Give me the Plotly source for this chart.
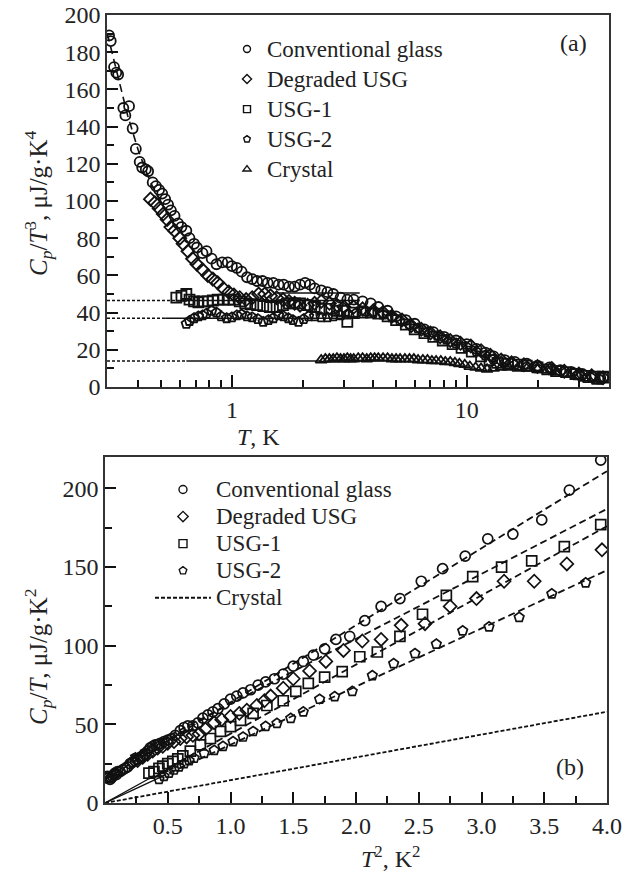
import plotly.graph_objects as go
import math

# ---------------- Panel (a): Cp/T^3 vs T ----------------
conv_T = [0.300, 0.305, 0.315, 0.322, 0.328, 0.345, 0.352, 0.365, 0.378, 0.390, 0.405, 0.415, 0.43, 0.44,
          0.46, 0.475, 0.49, 0.505, 0.52, 0.535, 0.55, 0.57, 0.59, 0.61, 0.64, 0.66, 0.69, 0.71, 0.75,
          0.78, 0.82, 0.86, 0.91, 0.96, 1.0, 1.05, 1.1, 1.16, 1.22, 1.28, 1.35, 1.42, 1.5, 1.58, 1.66,
          1.75, 1.85, 1.95, 2.05, 2.15, 2.25, 2.4, 2.55, 2.7, 2.9, 3.1, 3.3, 3.6, 3.9, 4.2, 4.6, 5.0,
          5.5, 6.0, 6.6, 7.2, 8.0, 9.0, 10, 11, 12, 13, 14.5, 16, 18, 20, 22.5, 25, 28, 31, 34, 37]
conv_a = [189, 186, 172, 169, 168, 150, 146, 151, 139, 128, 121, 118, 117, 116,
          110, 108, 106, 104, 101, 98, 95, 92, 88, 86, 84, 80, 77, 75, 72,
          73, 69, 66, 67, 67, 65, 64, 62, 59, 58, 57, 57, 56, 56, 55, 55,
          54, 54, 55, 56, 55, 53, 52, 51, 50, 48, 47, 47, 46, 45, 43, 41, 38,
          36, 34, 31, 29.5, 27, 25, 23, 20.5, 18.5, 16.5, 14.5, 13.5, 12.5, 11.5, 10.5, 9, 8, 7, 6, 5]

degr_T = [0.45, 0.47, 0.49, 0.51, 0.53, 0.55, 0.57, 0.6, 0.62, 0.65, 0.68, 0.71, 0.75, 0.79, 0.83,
          0.87, 0.92, 0.97, 1.02, 1.08, 1.15, 1.22, 1.3, 1.38, 1.46, 1.55, 1.65, 1.75, 1.85, 1.95,
          2.1, 2.25, 2.4, 2.6, 2.8, 3.0, 3.3, 3.6, 4.0, 4.4, 4.8, 5.3, 5.8, 6.4, 7.0, 7.7, 8.5, 9.4,
          10.4, 11.5, 12.6, 14, 15.5, 17.5, 20, 23, 26, 30, 34, 38]
degr_a = [101, 99, 96, 93, 90, 86, 84, 80, 77, 73, 69, 66, 63, 60, 58,
          56, 53, 51, 49.5, 48, 47, 48, 50, 50, 49, 48, 47, 46, 45, 44,
          44, 45, 46, 45, 44, 43, 43, 42, 41, 40, 38, 36, 33, 31, 29, 27, 25, 23.5,
          22, 19.5, 17, 14.5, 13, 12, 11, 10, 8.5, 7, 6, 5]

usg1_T = [0.58, 0.61, 0.64, 0.66, 0.69, 0.72, 0.75, 0.79, 0.83, 0.87, 0.92, 0.97, 1.02, 1.08, 1.14,
          1.2, 1.28, 1.36, 1.45, 1.55, 1.65, 1.75, 1.85, 1.95, 2.1, 2.25, 2.4, 2.6, 2.8, 3.0, 3.1,
          3.3, 3.6, 3.9, 4.2, 4.6, 5.0, 5.5, 6.0, 6.6, 7.2, 7.9, 8.7, 9.5, 10.5, 11.5, 12.5, 13.5,
          15, 16.5, 18, 20, 22, 24, 26.5, 29, 32, 35, 38, 40]
usg1_a = [48, 49, 50, 47, 46, 45.5, 46, 46, 46.5, 47, 47, 47, 47, 46, 45,
          44.5, 44, 43.5, 43, 43, 44, 45, 45, 45, 44, 43, 42, 42, 41, 41, 35,
          40, 40, 40, 39.5, 38, 36, 33.5, 31, 29, 27, 25, 23, 21, 19, 16.5, 14.5, 13,
          12.5, 12, 11.5, 10.5, 9.5, 8.5, 8, 7, 6, 5.5, 5.5, 5]

usg2_T = [0.64, 0.66, 0.69, 0.72, 0.75, 0.78, 0.82, 0.86, 0.9, 0.95, 1.0, 1.05, 1.1, 1.16, 1.22,
          1.29, 1.36, 1.43, 1.5, 1.58, 1.66, 1.74, 1.82, 1.92, 2.02, 2.12, 2.25, 2.4, 2.55, 2.7,
          2.9, 3.1, 3.4, 3.7, 4.0, 4.4, 4.8, 5.2, 5.7, 6.2, 6.8, 7.5, 8.2, 9.0, 10, 11, 12, 13,
          14.5, 16, 18, 20, 23, 26, 30, 34, 37]
usg2_a = [34, 35.5, 37, 38, 38.5, 39.5, 41, 40, 38, 37, 37.5, 38.5, 39, 38, 37.5,
          36.5, 35, 36, 37, 38.5, 38, 37, 36, 35, 36.5, 38, 38, 37.5, 37.5, 38,
          38.5, 39, 40, 40.5, 40, 39, 37.5, 35.5, 33.5, 31.5, 29.5, 27.5, 25.5, 23.5, 21.5, 19, 17, 15,
          13, 12, 11, 10, 9, 7.5, 6.5, 5, 4]

cryst_T = [2.4, 2.5, 2.6, 2.7, 2.8, 2.9, 3.0, 3.1, 3.2, 3.3, 3.45, 3.6, 3.75, 3.9, 4.05, 4.2, 4.4,
           4.6, 4.8, 5.0, 5.2, 5.45, 5.7, 5.95, 6.2, 6.5, 6.8, 7.1, 7.4, 7.75, 8.1, 8.5, 8.9, 9.3,
           9.8, 10.3, 10.9, 11.5, 12.2, 13, 14, 15, 16.5, 18, 20, 22, 24, 27, 30, 33, 36]
cryst_a = [14.5, 15, 15, 15, 15.5, 15, 15, 15.5, 15, 15, 15.5, 15.5, 15, 15.5, 15.5, 15.5, 15.5,
           15.5, 15, 15, 15, 15, 15, 15, 14.5, 14.5, 14.5, 14, 14, 14, 13.5, 13.5, 13, 12.5,
           12, 11, 10.5, 10, 9.5, 10, 10.5, 10.5, 10, 10, 9.5, 9, 8, 7, 5.5, 4, 3]

# low-temperature fit curve for the conventional glass
fit_a_T = [0.295, 0.31, 0.33, 0.36, 0.40, 0.45, 0.50]
fit_a_v = [190, 179, 164, 146, 127, 110, 99]

# Debye levels (dashed extrapolation + solid part)
lvl_values = [46.5, 37.0, 14.0]
lvl_dash_T = [(0.294, 0.58), (0.294, 0.52), (0.294, 0.64)]
lvl_solid_T = [(0.58, 3.5), (0.52, 3.5), (0.64, 2.4)]
extra_lvl_T = [1.5, 3.5]
extra_lvl_v = [50.5, 50.5]

# axis ticks (a)
range_a_T = [0.294, 40.3]
range_a_y = [0, 200]
tick_a_major = [1, 10]
tick_a_minor = [0.4, 0.5, 0.6, 0.7, 0.8, 0.9, 2, 3, 4, 5, 6, 7, 8, 9, 20, 30]
tick_a_y = list(range(0, 201, 20))
tick_a_y_minor = list(range(10, 200, 20))

# ---------------- Panel (b): Cp/T vs T^2 ----------------
conv_x = [0.01, 0.02, 0.03, 0.04, 0.05, 0.06, 0.07, 0.08, 0.09, 0.1, 0.12, 0.14, 0.16, 0.18, 0.2,
          0.22, 0.24, 0.26, 0.28, 0.3, 0.32, 0.34, 0.36, 0.38, 0.4, 0.42, 0.44, 0.47, 0.5, 0.53,
          0.56, 0.6, 0.63, 0.66, 0.7, 0.74, 0.78, 0.82, 0.86, 0.9, 0.95, 1.0, 1.05, 1.1, 1.16,
          1.22, 1.28, 1.35, 1.42, 1.5, 1.58, 1.66, 1.75, 1.84, 1.95, 2.07, 2.2, 2.35, 2.52, 2.69,
          2.87, 3.05, 3.25, 3.48, 3.7, 3.95]
conv_y = [16, 17, 16, 15, 16, 17, 18, 19, 18, 20, 20, 21, 22, 23, 25,
          26, 27, 28, 29, 30, 31, 33, 35, 36, 37, 37, 38, 39, 40, 41,
          43, 46, 48, 49, 49, 51, 54, 56, 58, 60, 63, 66, 68, 70, 72,
          75, 77, 79, 82, 87, 90, 94, 98, 104, 106, 116, 125, 130, 141, 149,
          157, 168, 171, 180, 199, 218]

degr_x = [0.22, 0.26, 0.3, 0.34, 0.38, 0.42, 0.46, 0.5, 0.55, 0.6, 0.65, 0.7, 0.75, 0.8, 0.87,
          0.93, 1.0, 1.07, 1.13, 1.21, 1.27, 1.32, 1.42, 1.5, 1.63, 1.76, 1.9, 2.05, 2.2, 2.36,
          2.55, 2.75, 2.96, 3.18, 3.42, 3.68, 3.96]
degr_y = [26, 27, 29, 31, 33, 35, 36, 38, 39, 41, 42, 43, 44, 47, 51,
          53, 55, 57, 59, 62, 65, 68, 73, 79, 84, 90, 97, 103, 104, 113,
          114, 125, 130, 141, 141, 152, 161]

usg1_x = [0.35, 0.39, 0.43, 0.46, 0.5, 0.54, 0.58, 0.62, 0.68, 0.76, 0.84, 0.92, 1.0, 1.08, 1.18,
          1.29, 1.42, 1.52, 1.62, 1.75, 1.89, 2.03, 2.17, 2.35, 2.53, 2.72, 2.93, 3.16, 3.4, 3.66, 3.95]
usg1_y = [19, 20, 22, 23.5, 25, 26.5, 28, 30, 33, 37, 41, 45.5, 48.5, 52.5, 57,
          62, 65, 71, 76, 80, 83.5, 93, 96, 106, 120, 132, 144, 150, 154, 163, 177]

usg2_x = [0.43, 0.47, 0.51, 0.55, 0.59, 0.63, 0.67, 0.71, 0.79, 0.87, 0.94, 1.02, 1.1, 1.18, 1.28,
          1.37, 1.48, 1.58, 1.71, 1.83, 1.97, 2.13, 2.3, 2.47, 2.64, 2.85, 3.06, 3.3, 3.56, 3.83]
usg2_y = [15, 17, 19, 21, 23, 25, 27, 28.5, 31.6, 33.5, 36, 39, 42, 45.5, 48.7,
          50.6, 53.8, 58, 66, 67.7, 71, 81, 88.6, 95, 101, 109.5, 112, 118, 133, 140]

# linear fits (end points)
fit_conv_x, fit_conv_y = [0.0, 4.0], [15, 211]
fit_degr_x, fit_degr_y = [0.2, 4.0], [30, 187]
fit_usg1_solid_x, fit_usg1_solid_y = [0.0, 0.35], [0, 15.4]
fit_usg1_x, fit_usg1_y = [0.35, 4.0], [15.4, 176]
fit_usg2_solid_x, fit_usg2_solid_y = [0.0, 0.43], [0, 16]
fit_usg2_x, fit_usg2_y = [0.43, 4.0], [16, 148]
fit_cryst_x, fit_cryst_y = [0.0, 4.0], [0, 58]

# axis ticks (b)
range_b_x = [0, 4]
range_b_y = [0, 220]
tick_b_x = [0.5, 1.0, 1.5, 2.0, 2.5, 3.0, 3.5, 4.0]
tick_b_x_text = ["0.5", "1.0", "1.5", "2.0", "2.5", "3.0", "3.5", "4.0"]
tick_b_x_minor = [0.25, 0.75, 1.25, 1.75, 2.25, 2.75, 3.25, 3.75]
tick_b_y = [0, 50, 100, 150, 200]
tick_b_y_minor = [25, 75, 125, 175]

names = ["Conventional glass", "Degraded USG", "USG-1", "USG-2", "Crystal"]
symbols = ["circle-open", "diamond-open", "square-open", "pentagon-open", "triangle-up-open"]

# ------------------------------------------------------------
W, H = 639, 874
FONT = "Liberation Serif, Times New Roman, serif"
INK = "#222222"
TICK = "#111111"


def px_x(p):
    return p / W


def px_y(p):
    return 1 - p / H


def big(t):
    return '<span style="font-size:23px">' + t + '</span>'


fig = go.Figure()

mk = dict(size=10, color="#111111", line=dict(width=1.8, color="#111111"))

# panel (a) lines
for v, (t0, t1) in zip(lvl_values, lvl_dash_T):
    fig.add_trace(go.Scatter(x=[t0, t1], y=[v, v], mode="lines", xaxis="x", yaxis="y",
                             line=dict(color="#111111", width=1.4, dash="3px,2px"), showlegend=False))
for v, (t0, t1) in zip(lvl_values, lvl_solid_T):
    fig.add_trace(go.Scatter(x=[t0, t1], y=[v, v], mode="lines", xaxis="x", yaxis="y",
                             line=dict(color="#111111", width=1.4), showlegend=False))
fig.add_trace(go.Scatter(x=extra_lvl_T, y=extra_lvl_v, mode="lines", xaxis="x", yaxis="y",
                         line=dict(color="#111111", width=1.4), showlegend=False))
fig.add_trace(go.Scatter(x=fit_a_T, y=fit_a_v, mode="lines", xaxis="x", yaxis="y",
                         line=dict(color="#111111", width=1.6, dash="8px,5px"), showlegend=False))

series_a = [(conv_T, conv_a), (degr_T, degr_a), (usg1_T, usg1_a), (usg2_T, usg2_a), (cryst_T, cryst_a)]
for (xs, ys), sym in zip(series_a, symbols):
    fig.add_trace(go.Scatter(x=xs, y=ys, mode="markers", xaxis="x", yaxis="y",
                             marker=dict(symbol=sym, **mk), showlegend=False))

for nm, sym in zip(names, symbols):
    fig.add_trace(go.Scatter(x=[None], y=[None], mode="markers", xaxis="x", yaxis="y", name=big(nm),
                             marker=dict(symbol=sym, size=7, color="#111111",
                                         line=dict(width=1.4, color="#111111")),
                             legend="legend"))

# panel (b) lines
dash_b = dict(color="#111111", width=1.8, dash="7px,4px")
for xs, ys in [(fit_conv_x, fit_conv_y), (fit_degr_x, fit_degr_y), (fit_usg1_x, fit_usg1_y),
               (fit_usg2_x, fit_usg2_y)]:
    fig.add_trace(go.Scatter(x=xs, y=ys, mode="lines", xaxis="x2", yaxis="y2",
                             line=dash_b, showlegend=False))
for xs, ys in [(fit_usg1_solid_x, fit_usg1_solid_y), (fit_usg2_solid_x, fit_usg2_solid_y)]:
    fig.add_trace(go.Scatter(x=xs, y=ys, mode="lines", xaxis="x2", yaxis="y2",
                             line=dict(color="#111111", width=1.3), showlegend=False))

series_b = [(conv_x, conv_y), (degr_x, degr_y), (usg1_x, usg1_y), (usg2_x, usg2_y)]
for (xs, ys), sym in zip(series_b, symbols[:4]):
    fig.add_trace(go.Scatter(x=xs, y=ys, mode="markers", xaxis="x2", yaxis="y2",
                             marker=dict(symbol=sym, size=10, color="#111111",
                                         line=dict(width=1.7, color="#111111")),
                             showlegend=False))
for nm, sym in zip(names[:4], symbols[:4]):
    fig.add_trace(go.Scatter(x=[None], y=[None], mode="markers", xaxis="x2", yaxis="y2", name=big(nm),
                             marker=dict(symbol=sym, size=8, color="#111111",
                                         line=dict(width=1.4, color="#111111")),
                             legend="legend2"))
fig.add_trace(go.Scatter(x=fit_cryst_x, y=fit_cryst_y, mode="lines", xaxis="x2", yaxis="y2",
                         name=big(names[4]), line=dict(color="#111111", width=1.8, dash="4px,2px"),
                         legend="legend2"))

# empty carrier traces so the overlay (minor-tick) axes get drawn
for xa, ya in [("x3", "y"), ("x", "y3"), ("x4", "y2"), ("x2", "y4")]:
    fig.add_trace(go.Scatter(x=[None], y=[None], mode="markers", xaxis=xa, yaxis=ya,
                             showlegend=False, hoverinfo="skip"))

tf = dict(family=FONT, size=24, color=INK)
base = dict(showline=True, linecolor="#333333", linewidth=1.6, mirror=True, showgrid=False,
            zeroline=False, automargin=False, tickfont=tf, ticks="inside", tickwidth=2.2,
            tickcolor=TICK, tickmode="array")
minor_axis = dict(showline=False, showgrid=False, zeroline=False, automargin=False,
                  showticklabels=False, ticks="inside", ticklen=7, tickwidth=1.8, tickcolor=TICK,
                  tickmode="array")

log_range_a = [math.log10(range_a_T[0]), math.log10(range_a_T[1])]

fig.update_layout(
    template="none",
    width=W, height=H, margin=dict(l=0, r=0, t=0, b=0, pad=0, autoexpand=False),
    paper_bgcolor="white", plot_bgcolor="white",
    font=dict(family=FONT, size=24, color=INK),
    xaxis=dict(**base, type="log", domain=[px_x(107), px_x(609)], range=log_range_a, anchor="y",
               ticklen=12, tickvals=tick_a_major, ticktext=[str(v) for v in tick_a_major]),
    yaxis=dict(**base, domain=[px_y(387), px_y(15)], range=range_a_y, anchor="x", ticklen=11,
               tickvals=tick_a_y),
    xaxis2=dict(**base, domain=[px_x(105), px_x(607)], range=range_b_x, anchor="y2", ticklen=11,
                tickvals=tick_b_x, ticktext=tick_b_x_text),
    yaxis2=dict(**base, domain=[px_y(803), px_y(457)], range=range_b_y, anchor="x2", ticklen=11,
                tickvals=tick_b_y),
    xaxis3=dict(**minor_axis, type="log", overlaying="x", anchor="y", side="bottom",
                range=log_range_a, tickvals=tick_a_minor),
    yaxis3=dict(**minor_axis, overlaying="y", anchor="x", side="left", range=range_a_y,
                tickvals=tick_a_y_minor),
    xaxis4=dict(**minor_axis, overlaying="x2", anchor="y2", side="bottom", range=range_b_x,
                tickvals=tick_b_x_minor),
    yaxis4=dict(**minor_axis, overlaying="y2", anchor="x2", side="left", range=range_b_y,
                tickvals=tick_b_y_minor),
    legend=dict(x=px_x(227), y=px_y(29), xanchor="left", yanchor="top",
                font=dict(family=FONT, size=20.8, color=INK), bgcolor="rgba(0,0,0,0)",
                itemwidth=30, tracegroupgap=0),
    legend2=dict(x=px_x(150), y=px_y(471), xanchor="left", yanchor="top",
                 font=dict(family=FONT, size=18.5, color=INK), bgcolor="rgba(0,0,0,0)",
                 itemwidth=56, tracegroupgap=0),
    annotations=[
        dict(text="(a)", x=px_x(573), y=px_y(43), xref="paper", yref="paper", showarrow=False,
             xanchor="center", yanchor="middle", font=dict(family=FONT, size=24, color=INK)),
        dict(text="(b)", x=px_x(570), y=px_y(767), xref="paper", yref="paper", showarrow=False,
             xanchor="center", yanchor="middle", font=dict(family=FONT, size=24, color=INK)),
        dict(text="<i>T</i>, K", x=px_x(258), y=px_y(437), xref="paper", yref="paper",
             xanchor="center", yanchor="middle",
             showarrow=False, font=dict(family=FONT, size=24, color=INK)),
        dict(text="<i>T</i><sup>2</sup>, K<sup>2</sup>", x=px_x(390), y=px_y(857), xref="paper",
             yref="paper", xanchor="center", yanchor="middle",
             showarrow=False, font=dict(family=FONT, size=24, color=INK)),
        dict(text="<i>C</i><sub><i>p</i></sub>/<i>T</i><sup>3</sup>, μJ/g·K<sup>4</sup>",
             x=px_x(38), y=px_y(203), xref="paper", yref="paper", showarrow=False, textangle=-90,
             xanchor="center", yanchor="middle", font=dict(family=FONT, size=25, color=INK)),
        dict(text="<i>C</i><sub><i>p</i></sub>/<i>T</i>, μJ/g·K<sup>2</sup>",
             x=px_x(38), y=px_y(657), xref="paper", yref="paper", showarrow=False, textangle=-90,
             xanchor="center", yanchor="middle", font=dict(family=FONT, size=25, color=INK)),
    ],
)

fig.write_html("out.html")
